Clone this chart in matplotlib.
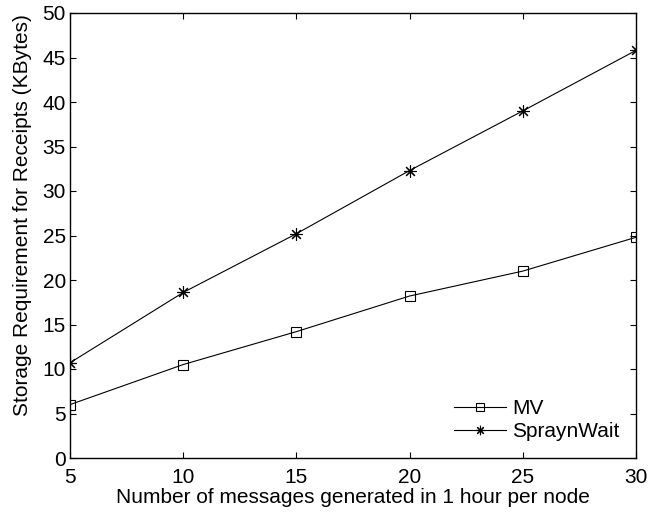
import matplotlib
matplotlib.use("Agg")
import matplotlib.pyplot as plt

# messages per node per hour
msgs = [5, 10, 15, 20, 25, 30]
# storage needed for receipts (KBytes)
mv = [6.0, 10.5, 14.2, 18.2, 21.0, 24.8]
spray_wait = [10.7, 18.6, 25.2, 32.3, 39.0, 45.8]

plt.rcParams['font.family'] = ['Liberation Sans', 'DejaVu Sans']
plt.rcParams['font.size'] = 15

fig = plt.figure(figsize=(6.49, 5.16), dpi=100)
ax = fig.add_axes([70 / 649, 1 - 458 / 516, (636 - 70) / 649, (458 - 13) / 516])

ax.plot(msgs, mv, color='black', lw=0.8, marker='s', ms=7, mfc='none', mew=0.8, label='MV')
ax.plot(msgs, spray_wait, color='black', lw=0.8, marker=(8, 2, 0), ms=9, mew=0.8,
        label='SpraynWait')

ax.set_xlim(5, 30)
ax.set_ylim(0, 50)
ax.set_xticks(msgs)
ax.set_yticks(range(0, 51, 5))
ax.tick_params(direction='in', top=True, right=True, length=4, width=0.8)
ax.tick_params(axis='x', pad=7)
ax.tick_params(axis='y', pad=3)
for s in ax.spines.values():
    s.set_linewidth(1.0)

ax.set_xlabel('Number of messages generated in 1 hour per node', labelpad=1)
ax.set_ylabel('Storage Requirement for Receipts (KBytes)')
ax.yaxis.set_label_coords(-0.068, 0.545)
ax.legend(loc='lower right', frameon=False, handlelength=2.5, borderaxespad=0.4,
          handletextpad=0.3, labelspacing=0.2, markerscale=0.75)

fig.savefig('out.png', dpi=100)
